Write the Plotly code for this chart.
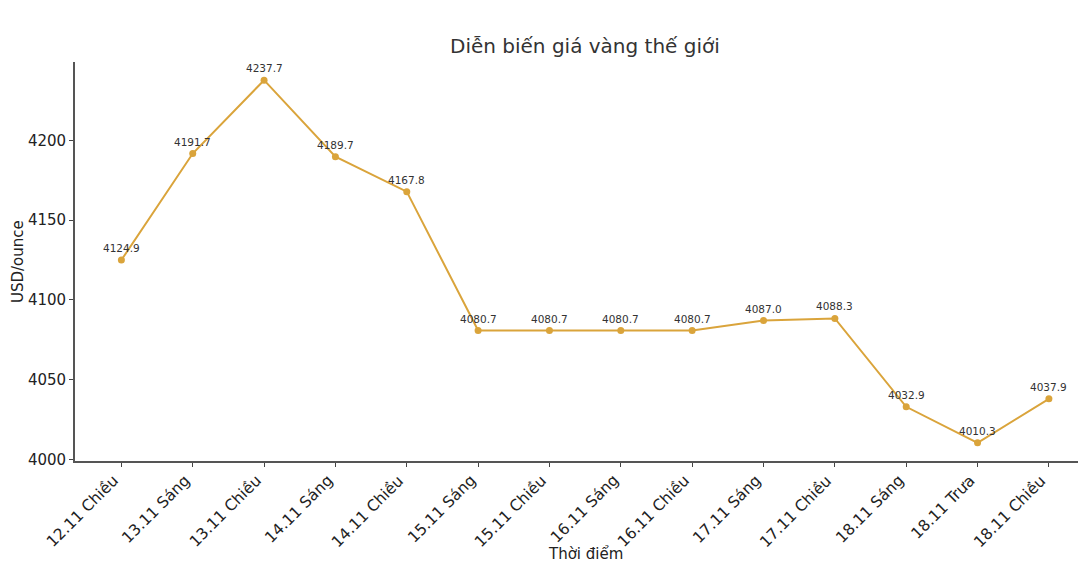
import plotly.graph_objects as go

categories = ["12.11 Chiều", "13.11 Sáng", "13.11 Chiều", "14.11 Sáng", "14.11 Chiều",
              "15.11 Sáng", "15.11 Chiều", "16.11 Sáng", "16.11 Chiều", "17.11 Sáng",
              "17.11 Chiều", "18.11 Sáng", "18.11 Trưa", "18.11 Chiều"]
prices = [4124.9, 4191.7, 4237.7, 4189.7, 4167.8, 4080.7, 4080.7, 4080.7, 4080.7,
          4087.0, 4088.3, 4032.9, 4010.3, 4037.9]
y_ticks = [4000, 4050, 4100, 4150, 4200]

color = "#DAA43B"
font = "DejaVu Sans"
OFF = 8  # page body margin
W, H = 1086 - OFF, 586 - 2 * OFF
# plot area in screen coordinates
SL, ST, SR, SB = 75, 62, 1086, 461
L, T = SL - OFF, ST - OFF
R = W - (SR - OFF)
B = H - (SB - OFF)
pw = W - L - R
ph = H - T - B


def px_x(sx):
    return (sx - SL) / pw


def px_y(sy):
    return (SB - sy) / ph


xs = list(range(len(categories)))
fig = go.Figure()
fig.add_trace(go.Scatter(x=xs, y=prices, mode="lines+markers",
                         line=dict(color=color, width=2),
                         marker=dict(color=color, size=7), hoverinfo="skip"))

ann = []
for x, y in zip(xs, prices):
    ann.append(dict(x=x, y=y, text=f"{y:.1f}", showarrow=False, yshift=12,
                    font=dict(family=font, size=10.5, color="#333333")))

# rotated category labels (matplotlib-style: box top-right anchored at the tick)
for x, c in zip(xs, categories):
    ann.append(dict(x=x, xref="x", y=0, yref="paper", text=c, showarrow=False,
                    textangle=-45, xanchor="right", yanchor="top", yshift=-8, xshift=4,
                    font=dict(family=font, size=15.5, color="#222222")))

ann.append(dict(xref="paper", yref="paper", x=px_x(585), y=px_y(46),
                text="Diễn biến giá vàng thế giới", showarrow=False,
                font=dict(family=font, size=20, color="#333333"), yanchor="middle"))
ann.append(dict(xref="paper", yref="paper", x=px_x(585), y=px_y(554),
                text="Thời điểm", showarrow=False,
                font=dict(family=font, size=15, color="#222222"), yanchor="middle"))
ann.append(dict(xref="paper", yref="paper", x=px_x(18), y=px_y(262),
                text="USD/ounce", showarrow=False, textangle=-90,
                font=dict(family=font, size=15, color="#222222"), xanchor="center",
                yanchor="middle"))

fig.update_layout(
    width=W, height=H, margin=dict(l=L, r=R, t=T, b=B),
    paper_bgcolor="white", plot_bgcolor="white", showlegend=False,
    annotations=ann,
    xaxis=dict(range=[-0.65, 13.52], tickmode="array", tickvals=xs, ticktext=categories,
               showticklabels=False, showgrid=False, zeroline=False, showline=True,
               linecolor="#555555", linewidth=1.8, ticks="outside", ticklen=4,
               tickcolor="#444444"),
    yaxis=dict(range=[3998.9, 4249.1], tickmode="array", tickvals=y_ticks,
               showgrid=False, zeroline=False, showline=True,
               linecolor="#555555", linewidth=1.8, ticks="outside", ticklen=4,
               tickcolor="#444444", tickfont=dict(family=font, size=15, color="#222222")),
)
fig.write_html("out.html")
